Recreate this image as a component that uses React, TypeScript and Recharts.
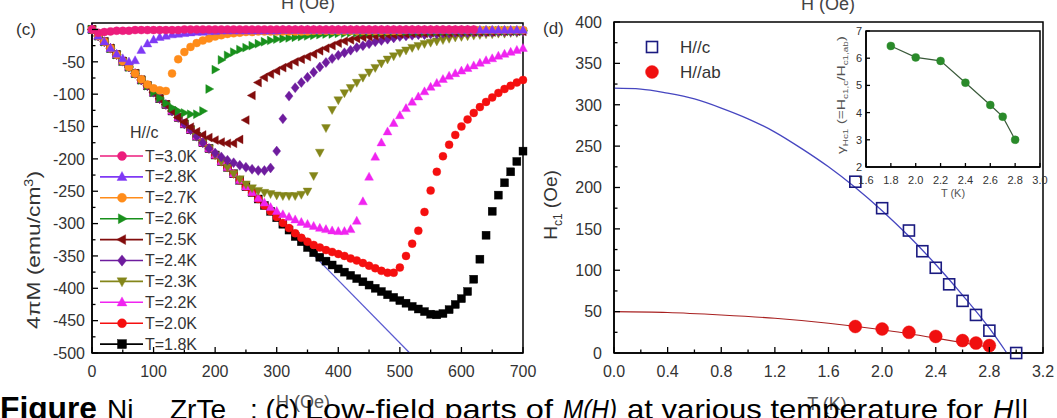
import React from "react";
import { ComposedChart, Line, XAxis, YAxis, ReferenceArea, Legend } from "recharts";

const FONT = '"Liberation Sans", Arial, Helvetica, sans-serif';

// ---------- panel (c): 4πM vs H, H//c ----------
const H_GRID = [
  0, 10, 20, 30, 40, 50, 60, 70, 80, 90, 100, 110, 120, 130, 140, 150, 160, 170, 180, 190,
  200, 210, 220, 230, 240, 250, 260, 270, 280, 290, 300, 310, 320, 330, 340, 350, 360, 370, 380, 390,
  400, 410, 420, 430, 440, 450, 460, 470, 480, 490, 500, 510, 520, 530, 540, 550, 560, 570, 580, 590,
  600, 610, 620, 630, 640, 650, 660, 670, 680, 690, 700,
];

const M_30 = [
  0, -5, -4, -3, -2, -2, -2, -1, -1, -1,
  -1, -1, -1, -1, -1, 0, 0, 0, 0, 0,
  0, 0, 0, 0, 0, 0, 0, 0, 0, 0,
  0, 0, 0, 0, 0, 0, 0, 0, 0, 0,
  0, 0, 0, 0, 0, 0, 0, 0, 0, 0,
  0, 0, 0, 0, 0, 0, 0, 0, 0, 0,
  0, 0, 0,
];
const M_28 = [
  0, -10, -19, -29, -38, -45, -50, -48, -32, -22,
  -16, -12, -10, -8, -7, -6, -5, -4, -4, -3,
  -3, -2, -2, -2, -2, -2, -2, -2, -2, -2,
  -2, -1, -1, -1, -1, -1, -1, -1, -1, -1,
  -1, -1, -1, -1, -1, -1, -1, -1, -1, -1,
  -1, -1, -1, -1, -1, -1, -1, -1, -1, -1,
  -1, -1, -1, -1, -1, -1, -1, -1, -1, -1,
  -1,
];
const M_27 = [
  0, -10, -19, -29, -39, -49, -58, -68, -77, -85,
  -91, -94, -95, -68, -46, -35, -27, -21, -17, -14,
  -11, -9, -7, -6, -5, -4, -4, -3, -3, -3,
  -3, -3, -3, -3, -3, -3, -2, -2, -2, -2,
  -2, -2, -2, -2, -2, -2, -2, -2, -2, -2,
  -2, -1, -1, -1, -1, -1, -1, -1, -1, -1,
  -1, -1, -1, -1, -1, -1, -1, -1, -1, -1,
  -1,
];
const M_26 = [
  0, -10, -19, -29, -39, -49, -58, -68, -78, -87,
  -97, -106, -114, -121, -126, -129, -131, -131, -126, -92,
  -62, -47, -40, -35, -31, -28, -25, -22, -19, -17,
  -15, -14, -13, -12, -11, -10, -9, -8, -7, -7,
  -6, -6, -5, -5, -5, -4, -4, -4, -4, -3,
  -3, -3, -3, -3, -3, -3, -3, -3, -3, -2,
  -2, -2, -2, -2, -2, -2, -2, -2, -2, -2,
  -2,
];
const M_25 = [
  0, -10, -19, -29, -39, -49, -58, -68, -78, -87,
  -97, -107, -116, -126, -136, -143, -151, -158, -163, -167,
  -171, -174, -176, -176, -170, -140, -102, -82, -74, -69,
  -64, -59, -55, -50, -46, -42, -38, -33, -29, -25,
  -21, -18, -16, -14, -12, -11, -10, -9, -8, -8,
  -7, -7, -6, -6, -6, -5, -5, -5, -5, -4,
  -4, -4, -4, -4, -4, -4, -3, -3, -3, -3,
  -3,
];
const M_24 = [
  0, -10, -19, -29, -39, -49, -58, -68, -78, -87,
  -97, -107, -116, -126, -136, -146, -155, -165, -175, -184,
  -191, -197, -202, -206, -210, -213, -216, -218, -218, -214,
  -188, -138, -103, -90, -82, -74, -66, -58, -51, -45,
  -40, -36, -32, -28, -25, -22, -19, -17, -15, -13,
  -11, -10, -9, -8, -8, -7, -7, -6, -6, -5,
  -5, -5, -4, -4, -4, -4, -3, -3, -3, -3,
  -3,
];
const M_23 = [
  0, -10, -19, -29, -39, -49, -58, -68, -78, -87,
  -97, -107, -116, -126, -136, -146, -155, -165, -175, -184,
  -194, -204, -213, -223, -231, -239, -245, -249, -252, -254,
  -256, -257, -257, -257, -255, -250, -226, -190, -152, -124,
  -109, -98, -90, -82, -74, -66, -59, -52, -46, -41,
  -36, -32, -28, -25, -22, -20, -18, -16, -14, -12,
  -11, -10, -9, -8, -7, -7, -6, -6, -5, -5,
  -4,
];
const M_22 = [
  0, -10, -19, -29, -39, -49, -58, -68, -78, -87,
  -97, -107, -116, -126, -136, -146, -155, -165, -175, -184,
  -194, -204, -213, -223, -233, -243, -252, -261, -268, -275,
  -281, -286, -290, -294, -298, -301, -304, -307, -309, -311,
  -312, -312, -309, -296, -266, -228, -197, -175, -158, -145,
  -133, -122, -112, -104, -96, -89, -83, -77, -72, -68,
  -64, -60, -56, -52, -48, -45, -41, -38, -35, -32,
  -29,
];
const M_20 = [
  0, -10, -19, -29, -39, -49, -58, -68, -78, -87,
  -97, -107, -116, -126, -136, -146, -155, -165, -175, -184,
  -194, -204, -213, -223, -233, -243, -252, -262, -272, -281,
  -290, -299, -307, -315, -322, -328, -333, -337, -341, -344,
  -347, -350, -354, -357, -361, -365, -369, -373, -376, -376,
  -368, -350, -331, -311, -282, -249, -220, -196, -178, -163,
  -150, -139, -129, -120, -112, -105, -98, -92, -87, -82,
  -78,
];
const M_18 = [
  0, -10, -19, -29, -39, -49, -58, -68, -78, -87,
  -97, -107, -116, -126, -136, -146, -155, -165, -175, -184,
  -194, -204, -213, -223, -233, -243, -252, -262, -272, -281,
  -291, -301, -310, -320, -328, -337, -345, -352, -358, -364,
  -370, -375, -380, -385, -390, -395, -400, -405, -410, -414,
  -419, -423, -428, -432, -436, -440, -441, -439, -433, -425,
  -416, -405, -386, -355, -318, -281, -256, -237, -220, -204,
  -188,
];

// Meissner line
const LINE_H = [0, 516];
const LINE_M = [0, -500];

const H_TICKS = [0, 50, 100, 150, 200, 250, 300, 350, 400, 450, 500, 550, 600, 650, 700];
const M_TICKS = [
  -500, -475, -450, -425, -400, -375, -350, -325, -300, -275, -250, -225, -200, -175, -150,
  -125, -100, -75, -50, -25, 0,
];

type Shape = "circle" | "square" | "up" | "down" | "left" | "right" | "diamond";

const C_SERIES: { name: string; values: number[]; color: string; shape: Shape }[] = [
  { name: "T=3.0K", values: M_30, color: "#ec1c7c", shape: "circle" },
  { name: "T=2.8K", values: M_28, color: "#7f39f5", shape: "up" },
  { name: "T=2.7K", values: M_27, color: "#ff8c1a", shape: "circle" },
  { name: "T=2.6K", values: M_26, color: "#19901c", shape: "right" },
  { name: "T=2.5K", values: M_25, color: "#820c0c", shape: "left" },
  { name: "T=2.4K", values: M_24, color: "#6e1c9e", shape: "diamond" },
  { name: "T=2.3K", values: M_23, color: "#84861a", shape: "down" },
  { name: "T=2.2K", values: M_22, color: "#f024f0", shape: "up" },
  { name: "T=2.0K", values: M_20, color: "#f50f0f", shape: "circle" },
  { name: "T=1.8K", values: M_18, color: "#000000", shape: "square" },
];

// ---------- panel (d): Hc1 vs T ----------
const T_HC = [1.8, 2.0, 2.2, 2.3, 2.4, 2.5, 2.6, 2.7, 2.8, 3.0];
const HC1_C = [207, 175, 148, 123, 103, 83, 63, 46, 27, 0];
const T_HAB = [1.8, 2.0, 2.2, 2.4, 2.6, 2.7, 2.8];
const HC1_AB = [32, 29, 25, 20, 15, 12, 9];

const FIT_C_T = [0, 0.2, 0.4, 0.6, 0.8, 1.0, 1.2, 1.4, 1.6, 1.8, 2.0, 2.2, 2.4, 2.6, 2.8, 2.93];
const FIT_C = [320, 319, 314, 307, 296, 283, 267, 247, 225, 200, 172, 141, 107, 70, 30, 0];
const FIT_AB_T = [0, 0.4, 0.8, 1.2, 1.6, 2.0, 2.4, 2.8];
const FIT_AB = [50, 49, 46, 42, 36, 28, 18, 7];

const T_TICKS = [0, 0.2, 0.4, 0.6, 0.8, 1.0, 1.2, 1.4, 1.6, 1.8, 2.0, 2.2, 2.4, 2.6, 2.8, 3.0, 3.2];
const HC_TICKS = [0, 25, 50, 75, 100, 125, 150, 175, 200, 225, 250, 275, 300, 325, 350, 375, 400];

// inset: anisotropy
const GAMMA_T = [1.8, 2.0, 2.2, 2.4, 2.6, 2.7, 2.8];
const GAMMA = [6.45, 6.03, 5.9, 5.1, 4.28, 3.85, 3.0];
const INSET_T_TICKS = [1.6, 1.8, 2.0, 2.2, 2.4, 2.6, 2.8, 3.0];
const INSET_G_TICKS = [2, 3, 4, 5, 6, 7];

const pts = (xs: number[], ys: number[]) => ys.map((y, i) => ({ x: xs[i], y }));

function Marker({
  cx,
  cy,
  shape,
  color,
  size,
  open = false,
}: {
  cx?: number;
  cy?: number;
  shape: Shape;
  color: string;
  size: number;
  open?: boolean;
}) {
  if (cx == null || cy == null || Number.isNaN(cx) || Number.isNaN(cy)) return null;
  const r = size / 2;
  const st = { fill: open ? "none" : color, stroke: color, strokeWidth: open ? 1.6 : 0.4 };
  switch (shape) {
    case "circle":
      return <circle cx={cx} cy={cy} r={r} {...st} />;
    case "square":
      return <rect x={cx - r} y={cy - r} width={size} height={size} {...st} />;
    case "diamond":
      return <polygon points={`${cx},${cy - r * 1.25} ${cx + r},${cy} ${cx},${cy + r * 1.25} ${cx - r},${cy}`} {...st} />;
    case "up":
      return <polygon points={`${cx},${cy - r * 1.2} ${cx + r * 1.1},${cy + r * 0.8} ${cx - r * 1.1},${cy + r * 0.8}`} {...st} />;
    case "down":
      return <polygon points={`${cx},${cy + r * 1.2} ${cx + r * 1.1},${cy - r * 0.8} ${cx - r * 1.1},${cy - r * 0.8}`} {...st} />;
    case "right":
      return <polygon points={`${cx + r * 1.2},${cy} ${cx - r * 0.8},${cy - r * 1.1} ${cx - r * 0.8},${cy + r * 1.1}`} {...st} />;
    case "left":
      return <polygon points={`${cx - r * 1.2},${cy} ${cx + r * 0.8},${cy - r * 1.1} ${cx + r * 0.8},${cy + r * 1.1}`} {...st} />;
  }
  return null;
}

interface TickOpts {
  isMajor: (v: number) => boolean;
  fmt: (v: number) => string;
  len: number;
  minorLen: number;
  fontSize: number;
  gap: number;
}

// tick marks point into the plot, labels sit outside
function bottomTick(o: TickOpts) {
  return (p: any) => {
    const v = p.payload?.value ?? 0;
    const major = o.isMajor(v);
    return (
      <g>
        <line x1={p.x} x2={p.x} y1={p.y} y2={p.y - (major ? o.len : o.minorLen)} stroke="#000" strokeWidth={1.3} />
        {major && (
          <text x={p.x} y={p.y + o.gap} textAnchor="middle" fontSize={o.fontSize} fill="#333" fontFamily={FONT}>
            {o.fmt(v)}
          </text>
        )}
      </g>
    );
  };
}

function leftTick(o: TickOpts) {
  return (p: any) => {
    const v = p.payload?.value ?? 0;
    const major = o.isMajor(v);
    return (
      <g>
        <line x1={p.x} x2={p.x + (major ? o.len : o.minorLen)} y1={p.y} y2={p.y} stroke="#000" strokeWidth={1.3} />
        {major && (
          <text x={p.x - o.gap} y={p.y + o.fontSize * 0.36} textAnchor="end" fontSize={o.fontSize} fill="#333" fontFamily={FONT}>
            {o.fmt(v)}
          </text>
        )}
      </g>
    );
  };
}

function TempLegend() {
  return (
    <svg width={130} height={240} style={{ overflow: "visible" }}>
      <text x={32} y={18} fontSize={16} fill="#333" fontFamily={FONT}>
        H//c
      </text>
      {C_SERIES.map((s, i) => {
        const y = 36 + i * 20.9;
        return (
          <g key={s.name}>
            <line x1={2} x2={45} y1={y} y2={y} stroke={s.color} strokeWidth={1.6} />
            <Marker cx={24} cy={y} shape={s.shape} color={s.color} size={9} />
            <text x={47} y={y + 5.5} fontSize={16} fill="#333" fontFamily={FONT}>
              {s.name}
            </text>
          </g>
        );
      })}
    </svg>
  );
}

function HcLegend() {
  return (
    <svg width={120} height={60} style={{ overflow: "visible" }}>
      <Marker cx={12} cy={12} shape="square" color="#1a1a80" size={11} open />
      <text x={40} y={18} fontSize={17} fill="#333" fontFamily={FONT}>
        H//c
      </text>
      <Marker cx={12} cy={37} shape="circle" color="#f01010" size={13} />
      <text x={40} y={43} fontSize={17} fill="#333" fontFamily={FONT}>
        H//ab
      </text>
    </svg>
  );
}

const axisLine = { stroke: "#000", strokeWidth: 1.5 };

function PanelC() {
  const order = [...C_SERIES].reverse();
  return (
    <ComposedChart width={540} height={418} margin={{ top: 23, right: 17, bottom: 64, left: 91 }}>
      <XAxis
        type="number"
        dataKey="x"
        domain={[0, 700]}
        ticks={H_TICKS}
        interval={0}
        height={1}
        tickSize={0}
        tickMargin={0}
        tickLine={false}
        axisLine={axisLine}
        tick={bottomTick({ isMajor: (v) => v % 100 === 0, fmt: (v) => String(v), len: 6, minorLen: 3.5, fontSize: 16, gap: 24 })}
      />
      <YAxis
        type="number"
        dataKey="y"
        domain={[-500, 10]}
        ticks={M_TICKS}
        interval={0}
        width={1}
        tickSize={0}
        tickMargin={0}
        tickLine={false}
        axisLine={axisLine}
        tick={leftTick({ isMajor: (v) => v % 50 === 0, fmt: (v) => String(v), len: 6, minorLen: 3.5, fontSize: 16, gap: 7 })}
      />
      <ReferenceArea x1={0} x2={700} y1={-500} y2={10} fill="none" stroke="#000" strokeWidth={1.5} />
      <Line
        data={pts(LINE_H, LINE_M)}
        dataKey="y"
        stroke="#5a5ad0"
        strokeWidth={1.2}
        dot={false}
        activeDot={false}
        isAnimationActive={false}
      />
      {order.map((s) => (
        <Line
          key={s.name}
          name={s.name}
          data={pts(H_GRID, s.values)}
          dataKey="y"
          stroke="none"
          activeDot={false}
          isAnimationActive={false}
          dot={(p: any) => (
            <Marker key={`${s.name}-${p.index}`} cx={p.cx} cy={p.cy} shape={s.shape} color={s.color} size={8} />
          )}
        />
      ))}
      <Legend
        layout="vertical"
        align="center"
        verticalAlign="middle"
        wrapperStyle={{ left: 98, top: 120, width: 130 }}
        content={() => <TempLegend />}
      />
    </ComposedChart>
  );
}

function PanelD() {
  return (
    <ComposedChart width={517} height={418} margin={{ top: 22, right: 14, bottom: 64, left: 73 }}>
      <XAxis
        type="number"
        dataKey="x"
        domain={[0, 3.2]}
        ticks={T_TICKS}
        interval={0}
        height={1}
        tickSize={0}
        tickMargin={0}
        tickLine={false}
        axisLine={axisLine}
        tick={bottomTick({
          isMajor: (v) => Math.round(v * 10) % 4 === 0,
          fmt: (v) => v.toFixed(1),
          len: 6,
          minorLen: 3.5,
          fontSize: 16,
          gap: 24,
        })}
      />
      <YAxis
        type="number"
        dataKey="y"
        domain={[0, 400]}
        ticks={HC_TICKS}
        interval={0}
        width={1}
        tickSize={0}
        tickMargin={0}
        tickLine={false}
        axisLine={axisLine}
        tick={leftTick({ isMajor: (v) => v % 50 === 0, fmt: (v) => String(v), len: 6, minorLen: 3.5, fontSize: 16, gap: 12 })}
      />
      <ReferenceArea x1={0} x2={3.2} y1={0} y2={400} fill="none" stroke="#000" strokeWidth={1.5} />
      <Line data={pts(FIT_C_T, FIT_C)} dataKey="y" type="monotone" stroke="#4646c0" strokeWidth={1.3} dot={false} activeDot={false} isAnimationActive={false} />
      <Line data={pts(FIT_AB_T, FIT_AB)} dataKey="y" type="monotone" stroke="#a82020" strokeWidth={1.1} dot={false} activeDot={false} isAnimationActive={false} />
      <Line
        data={pts(T_HC, HC1_C)}
        dataKey="y"
        stroke="none"
        activeDot={false}
        isAnimationActive={false}
        dot={(p: any) => <Marker key={`hc-${p.index}`} cx={p.cx} cy={p.cy} shape="square" color="#1a1a80" size={11} open />}
      />
      <Line
        data={pts(T_HAB, HC1_AB)}
        dataKey="y"
        stroke="none"
        activeDot={false}
        isAnimationActive={false}
        dot={(p: any) => <Marker key={`hab-${p.index}`} cx={p.cx} cy={p.cy} shape="circle" color="#f01010" size={13} />}
      />
      <Legend
        layout="vertical"
        align="center"
        verticalAlign="middle"
        wrapperStyle={{ left: 100, top: 35, width: 120 }}
        content={() => <HcLegend />}
      />
    </ComposedChart>
  );
}

function Inset() {
  return (
    <ComposedChart width={230} height={200} margin={{ top: 31, right: 10, bottom: 32, left: 45 }}>
      <XAxis
        type="number"
        dataKey="x"
        domain={[1.6, 3.0]}
        ticks={INSET_T_TICKS}
        interval={0}
        height={1}
        tickSize={0}
        tickMargin={0}
        tickLine={false}
        axisLine={axisLine}
        tick={bottomTick({ isMajor: () => true, fmt: (v) => v.toFixed(1), len: 4, minorLen: 4, fontSize: 11, gap: 17 })}
      />
      <YAxis
        type="number"
        dataKey="y"
        domain={[2, 7]}
        ticks={INSET_G_TICKS}
        interval={0}
        width={1}
        tickSize={0}
        tickMargin={0}
        tickLine={false}
        axisLine={axisLine}
        tick={leftTick({ isMajor: () => true, fmt: (v) => String(v), len: 4, minorLen: 4, fontSize: 11, gap: 4 })}
      />
      <ReferenceArea x1={1.6} x2={3.0} y1={2} y2={7} fill="none" stroke="#000" strokeWidth={1.5} />
      <Line
        data={pts(GAMMA_T, GAMMA)}
        dataKey="y"
        stroke="#3a5a3a"
        strokeWidth={1.2}
        activeDot={false}
        isAnimationActive={false}
        dot={(p: any) => <Marker key={`g-${p.index}`} cx={p.cx} cy={p.cy} shape="circle" color="#2a8a2a" size={8} />}
      />
    </ComposedChart>
  );
}

export default function App() {
  return (
    <div
      style={{
        position: "absolute",
        left: 0,
        top: 0,
        width: 1057,
        height: 418,
        overflow: "hidden",
        background: "#fff",
        fontFamily: FONT,
      }}
    >
      <div style={{ position: "absolute", left: 0, top: 0 }}>
        <PanelC />
      </div>
      <div style={{ position: "absolute", left: 540, top: 0 }}>
        <PanelD />
      </div>
      <div style={{ position: "absolute", left: 820, top: 0 }}>
        <Inset />
      </div>
      <svg
        width={1057}
        height={418}
        style={{ position: "absolute", left: 0, top: 0, pointerEvents: "none" }}
        fontFamily={FONT}
      >
        {/* cut-off axis titles of the panels above */}
        <text x={308} y={9} textAnchor="middle" fontSize={18} fill="#444">H (Oe)</text>
        <text x={828} y={10} textAnchor="middle" fontSize={18} fill="#444">H (Oe)</text>

        <text x={16} y={35} fontSize={17} fill="#333">(c)</text>
        <text x={543} y={34} fontSize={17} fill="#333">(d)</text>

        <text
          transform="translate(40,250) rotate(-90)"
          textAnchor="middle"
          fontSize={19}
          fill="#333"
          textLength={158}
          lengthAdjust="spacingAndGlyphs"
        >
          4πM (emu/cm<tspan dy={-7} fontSize={12}>3</tspan>
          <tspan dy={7}>)</tspan>
        </text>
        <text x={303} y={408} textAnchor="middle" fontSize={18} fill="#555">H (Oe)</text>

        <text transform="translate(557,205) rotate(-90)" textAnchor="middle" fontSize={19} fill="#333">
          H<tspan dy={5} fontSize={12}>c1</tspan>
          <tspan dy={-5}> (Oe)</tspan>
        </text>
        <text x={827} y={410} textAnchor="middle" fontSize={18} fill="#555">T (K)</text>

        {/* inset titles */}
        <text
          transform="translate(845,95) rotate(-90)"
          textAnchor="middle"
          fontSize={11}
          fill="#555"
          textLength={118}
          lengthAdjust="spacingAndGlyphs"
        >
          γ<tspan dy={3} fontSize={7}>Hc1</tspan>
          <tspan dy={-3}> (=H</tspan>
          <tspan dy={3} fontSize={7}>c1,c</tspan>
          <tspan dy={-3}>/H</tspan>
          <tspan dy={3} fontSize={7}>c1,ab</tspan>
          <tspan dy={-3}>)</tspan>
        </text>
        <text x={953} y={197} textAnchor="middle" fontSize={11} fill="#555">T (K)</text>

        {/* caption, cut by the bottom edge */}
        <g fill="#000">
          <text x={0} y={419} fontSize={32} fontWeight="bold" textLength={97} lengthAdjust="spacingAndGlyphs">Figure</text>
          <text x={107} y={419} fontSize={28}>
            Ni<tspan fontSize={16} dy={16}>0.04</tspan>
          </text>
          <text x={170} y={419} fontSize={28}>
            ZrTe<tspan fontSize={16} dy={16}>2</tspan>
          </text>
          <text x={250} y={419} fontSize={28}>: (c)</text>
          <text x={305} y={419} fontSize={28} textLength={248} lengthAdjust="spacingAndGlyphs">Low-field parts of</text>
          <text x={563} y={419} fontSize={28} fontStyle="italic" textLength={54} lengthAdjust="spacingAndGlyphs">M(H)</text>
          <text x={627} y={419} fontSize={28} textLength={356} lengthAdjust="spacingAndGlyphs">at various temperature for</text>
          <text x={993} y={419} fontSize={28} fontStyle="italic">H</text>
          <text x={1014} y={419} fontSize={28}>||</text>
        </g>
      </svg>
    </div>
  );
}
